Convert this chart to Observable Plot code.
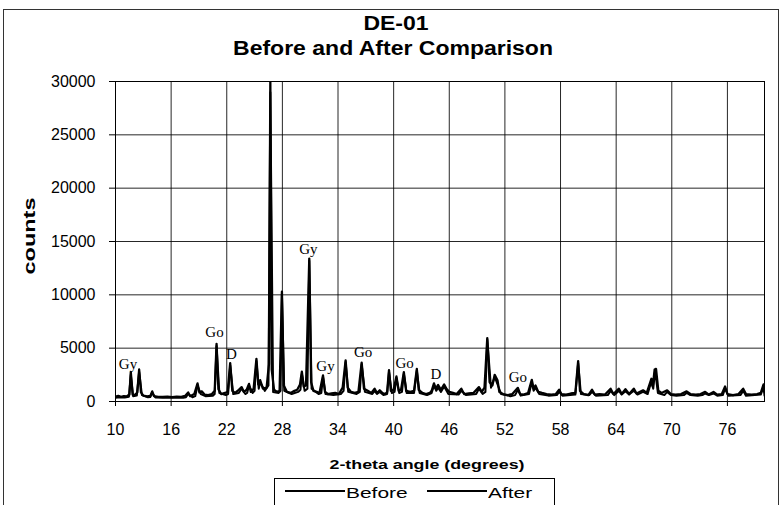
<!DOCTYPE html>
<html><head><meta charset="utf-8">
<script src="https://cdn.jsdelivr.net/npm/d3@7"></script>
<script src="https://cdn.jsdelivr.net/npm/@observablehq/plot@0.6"></script>
<style>
body{margin:0;background:#fff;}
#wrap{position:relative;width:780px;height:505px;overflow:hidden;font-family:"Liberation Sans",Arial,sans-serif;color:#000;background:#fff;}
.t{position:absolute;white-space:nowrap;line-height:1;}
#plot{position:absolute;left:0;top:0;}
</style></head><body>
<div id="wrap"><div id="plot"></div></div>
<script>
// ---- data ----
const titleLines = ["DE-01", "Before and After Comparison"];
const xLabel = "2-theta angle (degrees)";
const yLabel = "counts";
const seriesNames = ["Before", "After"];
const xTicks = [10, 16, 22, 28, 34, 40, 46, 52, 58, 64, 70, 76];
const yTicks = [0, 5000, 10000, 15000, 20000, 25000, 30000];

const beforeX = [10.0,10.3,10.6,10.9,11.2,11.5,11.65,11.85,12.1,12.35,12.55,12.75,13.0,13.4,13.75,13.96,14.15,14.6,15.1,15.6,16.1,16.6,17.1,17.5,17.84,18.05,18.5,18.85,19.05,19.3,19.6,20.0,20.4,20.7,20.9,21.1,21.4,21.8,22.1,22.37,22.6,22.9,23.3,23.6,23.85,24.15,24.4,24.6,24.9,25.2,25.4,25.6,25.9,26.3,26.55,26.7,26.85,27.1,27.4,27.7,27.95,28.15,28.5,28.9,29.3,29.6,29.9,30.1,30.3,30.55,30.9,31.1,31.35,31.7,32.0,32.38,32.6,32.9,33.3,33.7,34.1,34.5,34.82,35.05,35.4,35.8,36.2,36.55,36.8,37.2,37.6,37.95,38.2,38.5,38.8,39.1,39.3,39.5,39.7,40.0,40.3,40.55,40.8,41.1,41.35,41.8,42.2,42.5,42.7,43.1,43.5,43.9,44.1,44.35,44.55,44.8,45.1,45.45,45.7,46.0,46.4,46.8,47.3,47.6,48.1,48.6,49.2,49.5,49.8,50.1,50.35,50.65,50.9,51.2,51.4,51.8,52.3,52.8,53.4,53.65,54.0,54.5,54.9,55.1,55.3,55.6,56.0,56.5,57.0,57.5,57.85,58.1,58.6,59.1,59.6,59.9,60.1,60.5,61.0,61.4,61.7,62.2,62.8,63.4,63.7,64.3,64.6,65.0,65.4,65.9,66.2,66.9,67.3,67.8,67.95,68.15,68.3,68.55,68.9,69.5,69.9,70.4,71.0,71.6,72.0,72.6,73.1,73.6,74.0,74.5,74.9,75.4,75.75,76.0,76.6,77.2,77.7,78.0,78.6,79.2,79.6,79.9,80.0];
const beforeY = [450,520,430,500,470,650,2750,650,600,850,3000,850,550,480,520,950,500,430,420,460,410,450,430,520,850,500,700,1700,850,950,650,600,700,1000,5400,1150,700,800,900,3600,1000,800,1100,1350,900,1100,1650,900,1200,4000,1600,2000,1200,1300,3500,30000,3000,1100,900,1000,10300,1500,900,800,1000,1100,1600,2800,1400,1500,13400,1800,1000,900,800,2450,900,700,750,800,700,1300,3850,1300,900,800,900,3650,1200,1000,800,1200,800,1050,800,700,900,2950,1000,1100,2350,1000,1100,2750,1000,900,1000,3050,1100,800,700,800,1000,1700,1200,1550,1100,1600,1200,900,800,700,1200,700,750,800,1350,900,1300,5950,1800,1500,2500,2000,900,700,600,700,1280,700,650,800,2030,1200,1500,900,800,700,650,700,1100,700,650,750,800,3780,1000,700,600,1100,650,700,650,1200,700,1200,700,1150,700,1200,750,1050,800,2130,1400,3000,3060,1000,800,1050,700,650,700,950,700,650,700,900,650,900,650,700,1400,700,600,700,1200,700,650,700,800,1600,900];

const afterX = [10.0,10.5,11.0,11.45,11.65,11.9,12.3,12.55,12.85,13.5,13.75,13.96,14.3,15.3,16.4,17.3,17.6,17.84,18.3,18.6,18.85,19.2,19.7,20.5,20.7,20.9,21.2,21.9,22.15,22.37,22.7,23.3,23.6,24.0,24.2,24.4,24.8,25.0,25.2,25.45,25.6,26.1,26.5,26.7,27.0,27.6,27.8,27.95,28.2,29.0,29.7,29.95,30.1,30.4,30.7,30.9,31.15,31.9,32.2,32.38,32.65,33.5,34.3,34.6,34.82,35.1,36.0,36.35,36.55,36.9,37.7,37.95,38.2,38.5,38.9,39.3,39.5,39.8,40.1,40.3,40.6,40.9,41.1,41.4,42.2,42.5,42.8,43.6,44.1,44.35,44.6,44.8,45.1,45.45,45.9,47.0,47.3,47.8,48.9,49.2,49.6,49.9,50.1,50.5,50.9,51.25,51.6,52.6,53.1,53.4,53.7,54.6,54.9,55.1,55.3,55.7,56.7,57.6,57.85,58.2,59.6,59.9,60.2,61.1,61.4,61.8,63.1,63.4,63.8,64.3,64.6,65.0,65.4,65.9,66.3,66.9,67.4,67.8,68.0,68.2,68.5,69.2,69.5,69.9,70.5,71.3,71.6,72.0,72.8,73.3,73.6,74.0,74.5,74.9,75.5,75.75,76.1,77.4,77.7,78.0,79.6,79.9,80.0];
const afterY = [350,400,380,450,2500,500,550,2800,600,400,420,800,380,350,380,350,400,700,400,500,1500,700,500,550,700,5200,800,600,700,3400,700,800,1200,700,800,1500,800,1000,3800,1200,1800,1000,1500,29000,900,800,1000,10100,1000,700,900,1100,2600,1000,1200,13200,1200,700,800,2300,700,600,700,1000,3700,900,700,900,3500,900,700,1000,700,900,600,700,2800,800,900,2200,800,900,2600,800,800,2900,800,600,800,1500,1000,1300,900,1400,700,650,1000,600,700,1200,700,900,5800,1300,2300,1500,700,500,600,1100,550,700,1800,1000,1300,700,550,600,900,550,650,3600,700,600,900,550,600,1000,600,1000,650,950,650,1000,650,900,700,1900,1200,2900,800,600,900,600,550,600,800,600,550,600,750,600,750,550,600,1200,550,600,1000,550,650,1400,550];

const annoText = ["Gy","Go","D","Gy","Gy","Go","Go","D","Go"];
const annoX = [11.35,20.68,22.5,30.8,32.65,36.7,41.18,44.57,53.4];
const annoY = [3470,6470,4400,14250,3280,4590,3560,2530,2250];

// ---- tables built from the arrays ----
const before = beforeX.map((x, i) => ({x, y: beforeY[i]}));
const after = afterX.map((x, i) => ({x, y: afterY[i]}));
const annos = annoText.map((t, i) => ({t, x: annoX[i], y: annoY[i]}));

const chart = Plot.plot({
  width: 780, height: 505,
  marginTop: 81, marginBottom: 104, marginLeft: 115, marginRight: 16,
  style: {fontFamily: '"Liberation Sans", Arial, sans-serif', fontSize: "16px", color: "#000", background: "transparent", overflow: "visible"},
  x: {domain: [10, 80], ticks: xTicks, tickSize: 5, tickPadding: 17, label: null, tickFormat: d => String(d)},
  y: {domain: [0, 30000], ticks: yTicks, tickSize: 6, tickPadding: 14, label: null, tickFormat: d => String(d)},
  marks: [
    Plot.gridX(xTicks, {stroke: "#000", strokeOpacity: 0.85}),
    Plot.gridY(yTicks, {stroke: "#000", strokeOpacity: 0.85}),
    Plot.frame({stroke: "#000"}),
    Plot.line(after, {x: "x", y: "y", stroke: "#000", strokeWidth: 2, clip: true}),
    Plot.line(before, {x: "x", y: "y", stroke: "#000", strokeWidth: 2.3, clip: true}),
    Plot.text(annos, {x: "x", y: "y", text: "t", fontFamily: '"Liberation Serif", "Times New Roman", serif', fontSize: 15, fill: "#000"})
  ]
});
const wrap = document.getElementById("wrap");
document.getElementById("plot").appendChild(chart);

function addText(txt, opts) {
  const d = document.createElement("div");
  d.className = "t";
  d.textContent = txt;
  Object.assign(d.style, opts);
  wrap.appendChild(d);
  return d;
}
// outer chart border
const border = document.createElement("div");
Object.assign(border.style, {position: "absolute", left: "3px", top: "9px", width: "774px", height: "600px", border: "1px solid #333", pointerEvents: "none"});
wrap.appendChild(border);

// titles
addText(titleLines[0], {left: "396px", top: "13px", fontSize: "20px", fontWeight: "bold", transform: "translateX(-50%) scaleX(1.15)"});
addText(titleLines[1], {left: "393px", top: "38px", fontSize: "20px", fontWeight: "bold", transform: "translateX(-50%) scaleX(1.15)"});
// axis titles
addText(xLabel, {left: "427px", top: "458px", fontSize: "13px", fontWeight: "bold", transform: "translateX(-50%) scaleX(1.37)"});
addText(yLabel, {left: "29px", top: "236px", fontSize: "17px", fontWeight: "bold", transform: "translate(-50%,-50%) rotate(-90deg) scaleX(1.38)"});

// legend
const lg = document.createElement("div");
Object.assign(lg.style, {position: "absolute", left: "274px", top: "478px", width: "279px", height: "40px", border: "1px solid #000", background: "#fff"});
wrap.appendChild(lg);
const legendItems = [
  {name: seriesNames[0], x1: 285, x2: 345, w: 2},
  {name: seriesNames[1], x1: 427, x2: 487, w: 1.5}
];
legendItems.forEach(it => {
  const ln = document.createElement("div");
  Object.assign(ln.style, {position: "absolute", left: it.x1 + "px", top: (491 - it.w / 2) + "px", width: (it.x2 - it.x1) + "px", height: it.w + "px", background: "#000"});
  wrap.appendChild(ln);
  addText(it.name, {left: (it.x2 + 1) + "px", top: "484.5px", fontSize: "15.5px", transformOrigin: "0 0", transform: "scaleX(1.35)"});
});
</script>
</body></html>
